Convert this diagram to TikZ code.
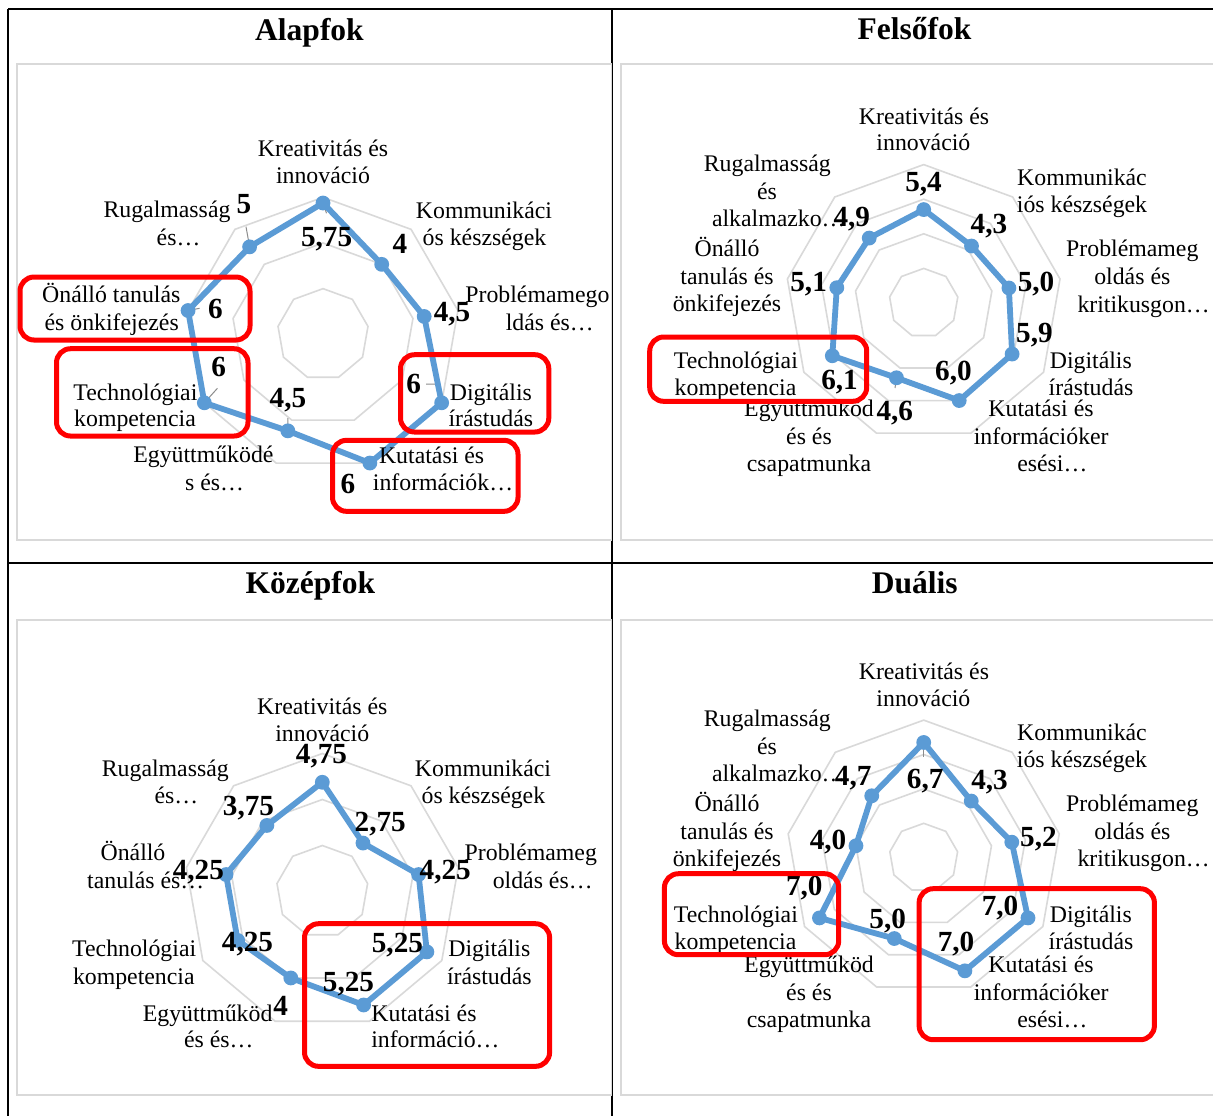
\documentclass[tikz,border=0pt]{standalone}
\usepackage{fontspec}
\setmainfont{Liberation Serif}
\definecolor{serblue}{HTML}{5B9BD5}
\definecolor{gridgray}{HTML}{D9D9D9}
\tikzset{
  gridline/.style={draw=gridgray, line width=0.8pt},
  series/.style={draw=serblue, line width=2.9pt, line join=round},
  marker/.style={fill=serblue},
  redbox/.style={draw=red, line width=2.5pt, rounded corners=7pt},
  chartframe/.style={draw=gridgray, line width=0.9pt, fill=white},
  tableline/.style={draw=black, line width=1.2pt},
  leader/.style={draw=black!45, line width=0.5pt},
  cat/.style={font=\fontsize{11.9pt}{13.5pt}\selectfont, anchor=base, inner sep=0pt},
  val/.style={font=\fontsize{14.6pt}{16pt}\selectfont\bfseries, anchor=base, inner sep=0pt},
  ttl/.style={font=\fontsize{15.75pt}{18pt}\selectfont\bfseries, anchor=base, inner sep=0pt},
}
\newcounter{lbl}
\newcommand\cl[3]{\stepcounter{lbl}\node[cat] (c\thelbl) at (#1,#2) {#3};}
\newcommand\cw[3]{\stepcounter{lbl}\node[cat,anchor=base west] (c\thelbl) at (#1,#2) {#3};}
\newcommand\vl[3]{\stepcounter{lbl}\node[val] (v\thelbl) at (#1,#2) {#3};}
% #1 prefix, #2 cx, #3 cy, #4 px per unit, #5 rings, #6 values
\newcommand\radarplot[6]{%
  \foreach \j in {1,...,#5}{
    \draw[gridline] ({#2},{#3-2*\j*#4})
      \foreach \i in {1,...,8}{ -- ({#2+2*\j*#4*sin(40*\i)},{#3-2*\j*#4*cos(40*\i)})} -- cycle;
  }
  \foreach \v [count=\i from 0] in {#6}{
    \coordinate (#1\i) at ({#2+\v*#4*sin(40*\i)},{#3-\v*#4*cos(40*\i)});
  }
}
\newcommand\series[1]{%
  \draw[series] (#10) -- (#11) -- (#12) -- (#13) -- (#14) -- (#15) -- (#16) -- (#17) -- (#18) -- cycle;
  \foreach \i in {0,...,8}{\fill[marker] (#1\i) circle (3.7pt);}
}
\begin{document}
\begin{tikzpicture}[x=0.5pt,y=-0.5pt]
\useasboundingbox (0,0) rectangle (1213,1115);
\clip (0,0) rectangle (1213,1115);
% table
\coordinate (tl) at (8,9);
\coordinate (tr) at (1220,9);
\coordinate (bl) at (8,1120);
\coordinate (mt) at (612,9);
\coordinate (mb) at (612,1120);
\coordinate (ml) at (8,563);
\coordinate (mr) at (1220,563);
\draw[tableline] (tl) -- (tr);
\draw[tableline] (tl) -- (bl);
\draw[tableline] (mt) -- (mb);
\draw[tableline] (ml) -- (mr);
% chart frames
\draw[chartframe] (17,64) rectangle (611.5,540);
\draw[chartframe] (621,64) rectangle (1230,540);
\draw[chartframe] (17,620) rectangle (611.5,1095);
\draw[chartframe] (621,620) rectangle (1230,1095);

% ---------------- Alapfok
\radarplot{a}{323}{334.3}{22.833}{3}{5.75,4,4.5,6,6,4.5,6,6,5}
\draw[leader] (a0) -- (326.5,213.3);
\draw[leader] (a8) -- (246,226.7);
\draw[leader] (a7) -- (199.6,308.3);
\draw[leader] (a6) -- (217.4,388.3);
\draw[leader] (a5) -- (287.9,418);
\draw[leader] (a3) -- (438,384) -- (426,384);
\series{a}
\node[ttl] (ta) at (309.5,40) {Alapfok};
\cl{323}{156.7}{Kreativitás és}
\cl{323}{183.3}{innováció}
\cl{167}{217.6}{Rugalmasság}
\cl{178.5}{245}{és…}
\cl{484}{218.5}{Kommunikáci}
\cl{484.5}{245}{ós készségek}
\cl{537.4}{302.7}{Problémamego}
\cl{549.7}{330}{ldás és…}
\cl{111.3}{302.7}{Önálló tanulás}
\cl{111.7}{330}{és önkifejezés}
\cl{135.4}{400}{Technológiai}
\cl{135}{426.7}{kompetencia}
\cl{203.4}{462.7}{Együttműködé}
\cl{214.5}{490}{s és…}
\cl{490.9}{400}{Digitális}
\cl{490.9}{426.7}{írástudás}
\cl{431.6}{463.3}{Kutatási és}
\cl{443}{490}{információk…}
\vl{326.6}{246}{5,75}
\vl{244}{213.3}{5}
\vl{400}{253}{4}
\vl{452}{321.7}{4,5}
\vl{215.5}{318.3}{6}
\vl{218.7}{376.7}{6}
\vl{287.9}{407.7}{4,5}
\vl{413.7}{393.3}{6}
\vl{348}{493.3}{6}

% ---------------- Felsőfok
\radarplot{f}{923.7}{303}{17.3}{4}{5.4,4.3,5.0,5.9,6.0,4.6,6.1,5.1,4.9}
\draw[leader] (f5) -- (895,388);
\series{f}
\node[ttl] (tf) at (914.6,39.3) {Felsőfok};
\cl{924}{124}{Kreativitás és}
\cl{923.4}{150.7}{innováció}
\cl{1082}{185}{Kommunikác}
\cl{1082}{212.3}{iós készségek}
\cl{767.3}{171.7}{Rugalmasság}
\cl{766.9}{199}{és}
\cw{711.6}{226.7}{alkalmazko…}
\cl{727}{256.7}{Önálló}
\cl{727}{284}{tanulás és}
\cl{727}{311.7}{önkifejezés}
\cl{1132.3}{256.7}{Problémameg}
\cl{1132.3}{284}{oldás és}
\cl{1143.6}{312.7}{kritikusgon…}
\cl{1090.8}{368.3}{Digitális}
\cl{1091}{395}{írástudás}
\cl{1041}{416.7}{Kutatási és}
\cl{1041.2}{444.3}{információker}
\cl{1052.3}{471.7}{esési…}
\cl{735.9}{368.3}{Technológiai}
\cl{735.5}{395}{kompetencia}
\cl{809}{416.7}{Együttműköd}
\cl{809}{444.3}{és és}
\cl{809}{471.7}{csapatmunka}
\vl{923.5}{191.7}{5,4}
\vl{988.9}{233.3}{4,3}
\vl{851.8}{226.7}{4,9}
\vl{808.6}{291.7}{5,1}
\vl{1036}{291.7}{5,0}
\vl{1034.4}{342.7}{5,9}
\vl{953.4}{380}{6,0}
\vl{839.5}{389.3}{6,1}
\vl{894.8}{420}{4,6}

% ---------------- Középfok
\radarplot{k}{322.3}{891.5}{23}{3}{4.75,2.75,4.25,5.25,5.25,4,4.25,4.25,3.75}
\series{k}
\node[ttl] (tk) at (310.4,593.3) {Középfok};
\cl{322.3}{714}{Kreativitás és}
\cl{322.3}{741}{innováció}
\cl{165.3}{776}{Rugalmasság}
\cl{176.4}{803.3}{és…}
\cl{483}{776}{Kommunikáci}
\cl{483.4}{803.3}{ós készségek}
\cl{530.8}{860.7}{Problémameg}
\cl{542.7}{888.3}{oldás és…}
\cl{133}{860.7}{Önálló}
\cl{145.7}{888.3}{tanulás és…}
\cl{134.2}{956.7}{Technológiai}
\cl{133.8}{984.3}{kompetencia}
\cl{207.6}{1021}{Együttműköd}
\cl{218.8}{1047.7}{és és…}
\cl{489.3}{956.7}{Digitális}
\cl{489.3}{984.3}{írástudás}
\cl{424}{1021}{Kutatási és}
\cl{435.4}{1047.7}{információ…}
\vl{321.5}{763.3}{4,75}
\vl{248.5}{815}{3,75}
\vl{380.2}{831.7}{2,75}
\vl{445.2}{879.3}{4,25}
\vl{198.3}{879.3}{4,25}
\vl{247.5}{951}{4,25}
\vl{280.7}{1015}{4}
\vl{397.4}{952.7}{5,25}
\vl{348.5}{991.7}{5,25}

% ---------------- Duális
\radarplot{d}{923.7}{857.7}{17.2}{4}{6.7,4.3,5.2,7.0,7.0,5.0,7.0,4.0,4.7}
\draw[leader] (d0) -- (923.7,756.7);
\series{d}
\node[ttl] (td) at (914.8,593.3) {Duális};
\cl{923.9}{679.3}{Kreativitás és}
\cl{923.4}{706.7}{innováció}
\cl{1082}{740}{Kommunikác}
\cl{1082}{767.3}{iós készségek}
\cl{767.3}{726.7}{Rugalmasság}
\cl{766.9}{754.3}{és}
\cw{711.6}{781.7}{alkalmazko…}
\cl{727}{811.7}{Önálló}
\cl{727}{839.3}{tanulás és}
\cl{727}{866.7}{önkifejezés}
\cl{1132.3}{811.7}{Problémameg}
\cl{1132.3}{839.3}{oldás és}
\cl{1143.6}{866.7}{kritikusgon…}
\cl{1090.8}{922.7}{Digitális}
\cl{1091}{949.3}{írástudás}
\cl{1041}{972.7}{Kutatási és}
\cl{1041.2}{1000}{információker}
\cl{1052.3}{1027.3}{esési…}
\cl{735.9}{922.7}{Technológiai}
\cl{735.5}{949.3}{kompetencia}
\cl{809}{972.7}{Együttműköd}
\cl{809}{1000}{és és}
\cl{809}{1027.3}{csapatmunka}
\vl{925.2}{788.3}{6,7}
\vl{989.5}{789.3}{4,3}
\vl{853.2}{785}{4,7}
\vl{828}{849.3}{4,0}
\vl{1038.4}{846.7}{5,2}
\vl{804.3}{895}{7,0}
\vl{887.7}{928.3}{5,0}
\vl{1000}{915}{7,0}
\vl{956}{951.7}{7,0}

% ---------------- red highlight boxes
\draw[redbox] (20,277) rectangle (250,340);
\draw[redbox] (56.5,348.7) rectangle (248,436);
\draw[redbox] (400.5,354.7) rectangle (548.8,432);
\draw[redbox] (332.5,440.3) rectangle (518,511.3);
\draw[redbox] (649.7,337) rectangle (866.7,401.3);
\draw[redbox] (304.5,923.7) rectangle (549.6,1066.3);
\draw[redbox] (664.4,873.7) rectangle (838.7,954.7);
\draw[redbox] (919.1,888.7) rectangle (1154.4,1039.7);
\end{tikzpicture}
\end{document}
